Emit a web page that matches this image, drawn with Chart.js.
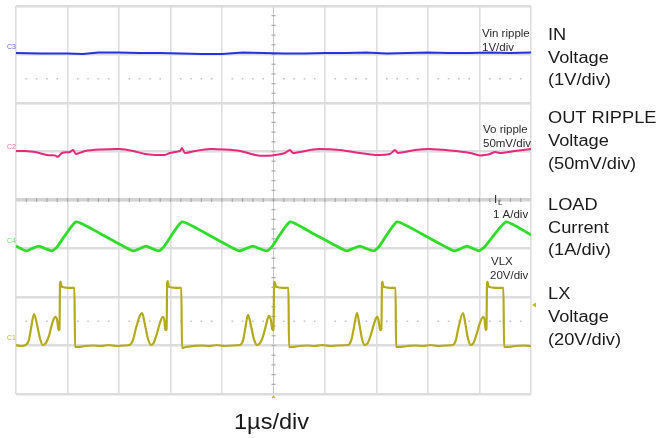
<!DOCTYPE html>
<html>
<head>
<meta charset="utf-8">
<script src="https://cdn.jsdelivr.net/npm/chart.js@4.4.1/dist/chart.umd.min.js"></script>
<style>
  html, body { margin: 0; padding: 0; background: #fff; }
  #scope { display: block; }
</style>
</head>
<body>
<canvas id="scope" width="661" height="438"></canvas>
<script>
// time axis in µs (1 µs/div, 10 div), vertical axis in screen divisions (8 div)
const xDivs = 10;
const yDivs = 8;

// C3 - Vin ripple
const vinTime = [0, 0.5, 1.0, 1.3, 1.6, 2.0, 2.4, 2.8, 3.2, 3.6, 4.0, 4.4, 4.8, 5.2, 5.6, 6.0, 6.4, 6.8, 7.2, 7.6, 8.0, 8.4, 8.8, 9.2, 9.6, 10];
const vinDiv  = [7.03, 7.02, 7.02, 7.01, 7.04, 7.04, 7.03, 7.03, 7.02, 7.01, 7.01, 7.04, 7.03, 7.02, 7.02, 7.03, 7.03, 7.04, 7.02, 7.03, 7.04, 7.03, 7.03, 7.04, 7.03, 7.04];

// C2 - Vo ripple
const voTime = [0, 0.175, 0.369, 0.602, 0.757, 0.816, 0.893, 1.049, 1.107, 1.165, 1.34, 1.631, 2.019, 2.272, 2.505, 2.699, 2.893, 2.99, 3.184, 3.223, 3.282, 3.476, 3.767, 4.058, 4.35, 4.641, 4.835, 5.029, 5.223, 5.32, 5.379, 5.709, 5.903, 6.291, 6.68, 6.971, 7.262, 7.359, 7.417, 7.748, 8.039, 8.427, 8.816, 9.01, 9.204, 9.301, 9.398, 9.689, 10];
const voDiv  = [5.01, 5.01, 4.99, 4.93, 4.92, 4.89, 4.97, 4.99, 5.03, 4.95, 5.01, 5.04, 5.05, 5.01, 4.95, 4.93, 4.93, 4.97, 5.01, 5.07, 4.97, 5.01, 5.05, 5.04, 5.01, 4.93, 4.91, 4.93, 4.97, 5.03, 4.97, 5.03, 5.05, 5.03, 4.97, 4.93, 4.95, 5.03, 4.97, 5.03, 5.05, 5.02, 4.97, 4.92, 4.95, 4.99, 4.97, 5.01, 5.05];

// C4 - inductor current
const ilTime = [0, 0.194, 0.311, 0.447, 0.563, 0.699, 0.796, 1.165, 1.631, 2.272, 2.408, 2.524, 2.641, 2.777, 2.874, 3.223, 3.689, 4.33, 4.466, 4.602, 4.718, 4.874, 4.971, 5.32, 5.767, 6.408, 6.544, 6.68, 6.796, 6.951, 7.049, 7.398, 7.864, 8.505, 8.641, 8.757, 8.874, 8.99, 9.107, 9.515, 10];
const ilDiv  = [3.05, 2.95, 3.0, 3.05, 3.0, 2.95, 3.03, 3.55, 3.31, 2.95, 3.0, 3.05, 3.0, 2.95, 3.04, 3.55, 3.31, 2.95, 3.0, 3.05, 3.0, 2.95, 3.04, 3.55, 3.31, 2.95, 3.0, 3.05, 3.0, 2.95, 3.04, 3.55, 3.31, 2.95, 3.0, 3.05, 3.0, 2.95, 3.04, 3.55, 3.28];

// C1 - switch node VLX
const lxTime = [0, 0.08, 0.19, 0.25, 0.29, 0.35, 0.41, 0.47, 0.52, 0.58, 0.64, 0.70, 0.76, 0.80, 0.825, 0.845, 0.855, 0.865, 0.89, 1.01, 1.135, 1.146, 1.21, 1.35, 1.5, 1.65, 1.8, 1.95, 2.1,
  2.2, 2.27, 2.33, 2.40, 2.45, 2.50, 2.56, 2.62, 2.67, 2.73, 2.79, 2.85, 2.88, 2.90, 2.925, 2.935, 2.945, 2.97, 3.10, 3.21, 3.223, 3.29, 3.45, 3.6, 3.75, 3.9, 4.05, 4.2,
  4.35, 4.41, 4.45, 4.505, 4.56, 4.62, 4.68, 4.74, 4.80, 4.86, 4.91, 4.95, 4.98, 5.0, 5.012, 5.02, 5.05, 5.18, 5.29, 5.301, 5.36, 5.5, 5.65, 5.8, 5.95, 6.1, 6.25,
  6.45, 6.51, 6.56, 6.62, 6.67, 6.72, 6.77, 6.83, 6.89, 6.95, 7.01, 7.04, 7.07, 7.095, 7.107, 7.115, 7.14, 7.27, 7.37, 7.379, 7.44, 7.6, 7.75, 7.9, 8.05, 8.2, 8.35,
  8.48, 8.54, 8.59, 8.68, 8.73, 8.78, 8.83, 8.88, 8.94, 9.0, 9.07, 9.10, 9.12, 9.135, 9.146, 9.155, 9.18, 9.32, 9.465, 9.476, 9.55, 9.7, 9.85, 10];
const lxDiv  = [1.01, 0.99, 1.01, 1.11, 1.34, 1.65, 1.42, 1.13, 1.01, 1.05, 1.20, 1.44, 1.59, 1.52, 1.32, 1.33, 2.29, 2.31, 2.21, 2.19, 2.19, 0.97, 0.97, 0.99, 1.0, 0.99, 1.01, 0.99, 1.0,
  1.01, 1.11, 1.36, 1.60, 1.67, 1.45, 1.15, 1.01, 1.05, 1.22, 1.45, 1.59, 1.53, 1.32, 1.33, 2.29, 2.33, 2.21, 2.19, 2.19, 0.95, 0.97, 0.99, 1.0, 0.99, 1.01, 0.99, 1.0,
  1.01, 1.11, 1.34, 1.63, 1.42, 1.13, 1.01, 1.05, 1.20, 1.44, 1.61, 1.52, 1.32, 1.33, 2.29, 2.31, 2.21, 2.19, 2.19, 0.97, 0.97, 0.99, 1.0, 0.99, 1.01, 0.99, 1.0,
  1.01, 1.11, 1.36, 1.67, 1.42, 1.13, 1.01, 1.05, 1.22, 1.44, 1.59, 1.52, 1.32, 1.33, 2.29, 2.31, 2.21, 2.19, 2.19, 0.97, 0.97, 0.99, 1.0, 0.99, 1.01, 0.99, 1.0,
  1.01, 1.11, 1.36, 1.67, 1.42, 1.13, 1.01, 1.05, 1.22, 1.44, 1.59, 1.52, 1.32, 1.33, 2.29, 2.31, 2.21, 2.19, 2.19, 0.97, 0.97, 0.99, 1.0, 0.99];

const triggerLevel = 1.835;
const dottedLevels = [6.5, 1.5];

// on-screen probe labels [text lines, colour]
const channelTags = [['C3', 7.1, '#6a6ae0'], ['C2', 5.05, '#e070a8'], ['C4', 3.1, '#66dd66'], ['C1', 1.1, '#b8b040']];
const sideLabels = [
  ['IN', 'Voltage', '(1V/div)'],
  ['OUT RIPPLE', 'Voltage', '(50mV/div)'],
  ['LOAD', 'Current', '(1A/div)'],
  ['LX', 'Voltage', '(20V/div)']
];
const sideBaselines = [40, 123.3, 210, 299.3];
const timeBase = '1µs/div';

function pts(xs, ys) { return xs.map((t, i) => ({ x: t, y: ys[i] })); }

function stretchText(ctx, text, x, y, sx) {
  ctx.save();
  ctx.translate(x, y);
  ctx.scale(sx, 1);
  ctx.fillText(text, 0, 0);
  ctx.restore();
}

const scopeDecor = {
  id: 'scopeDecor',
  beforeDatasetsDraw(chart) {
    const { ctx, scales: { x, y } } = chart;
    ctx.save();
    // minor ticks on the centre cross
    ctx.fillStyle = '#a9a9a9';
    const cy = y.getPixelForValue(yDivs / 2);
    const cx = x.getPixelForValue(xDivs / 2);
    for (let k = 1; k < xDivs * 5; k++) {
      const px = x.getPixelForValue(k / 5);
      ctx.fillRect(px - 0.6, cy - 2, 1.2, 4);
    }
    for (let k = 1; k < yDivs * 5; k++) {
      const py = y.getPixelForValue(k / 5);
      ctx.fillRect(cx - 2, py - 0.6, 4, 1.2);
    }
    // dotted reference lines
    ctx.fillStyle = '#c6c6c6';
    dottedLevels.forEach(v => {
      const py = y.getPixelForValue(v);
      for (let k = 1; k < xDivs * 5; k++) {
        if (k % 5 === 0) continue;
        const px = x.getPixelForValue(k / 5);
        ctx.fillRect(px - 0.8, py - 0.8, 1.6, 1.6);
      }
    });
    ctx.restore();
  },
  afterDraw(chart) {
    const { ctx, chartArea: a, scales: { x, y } } = chart;
    ctx.save();
    // channel tags on the left
    ctx.font = '7px "Liberation Sans", Arial, sans-serif';
    ctx.textBaseline = 'bottom';
    channelTags.forEach(([t, v, c]) => {
      ctx.fillStyle = c;
      ctx.fillText(t, 7, y.getPixelForValue(v) + 1);
    });

    // in-plot probe captions
    ctx.fillStyle = '#2a2a2a';
    ctx.textBaseline = 'alphabetic';
    ctx.font = '11.5px "Liberation Sans", Arial, sans-serif';
    ctx.fillText('Vin ripple', 482, 37);
    ctx.fillText('1V/div', 482, 51);
    ctx.fillText('Vo ripple', 483, 133);
    ctx.fillText('50mV/div', 483, 147);
    ctx.fillText('I', 494, 203);
    ctx.font = '8px "Liberation Sans", Arial, sans-serif';
    ctx.fillText('L', 498, 205);
    ctx.font = '11.5px "Liberation Sans", Arial, sans-serif';
    ctx.fillText('1 A/div', 493, 218);
    ctx.fillText('VLX', 491, 265);
    ctx.fillText('20V/div', 490, 279);

    // trigger markers
    ctx.fillStyle = '#c8b820';
    const ty = y.getPixelForValue(triggerLevel);
    ctx.beginPath();
    ctx.moveTo(a.right + 1, ty);
    ctx.lineTo(a.right + 5, ty - 2.5);
    ctx.lineTo(a.right + 5, ty + 2.5);
    ctx.closePath();
    ctx.fill();
    const tx = x.getPixelForValue(xDivs / 2);
    ctx.beginPath();
    ctx.moveTo(tx, a.bottom + 1);
    ctx.lineTo(tx - 2, a.bottom + 4);
    ctx.lineTo(tx + 2, a.bottom + 4);
    ctx.closePath();
    ctx.fill();

    // channel descriptions on the right
    ctx.fillStyle = '#1b1b1b';
    ctx.font = '16px "Liberation Sans", Arial, sans-serif';
    sideLabels.forEach((lines, i) => {
      lines.forEach((s, j) => stretchText(ctx, s, a.right + 17, sideBaselines[i] + j * 22.6, 1.14));
    });

    // time base caption
    ctx.font = '22px "Liberation Sans", Arial, sans-serif';
    const w = ctx.measureText(timeBase).width * 1.07;
    stretchText(ctx, timeBase, tx - 2 - w / 2, 429, 1.07);
    ctx.restore();
  }
};

const gridX = {
  drawTicks: false,
  color: c => c.tick && c.tick.value === xDivs / 2 ? '#c9c9c9' : '#dedede',
  lineWidth: c => c.tick && c.tick.value === xDivs / 2 ? 1 : 1.6
};
const gridY = {
  drawTicks: false,
  color: c => c.tick && c.tick.value === yDivs / 2 ? '#d3d3d3' : '#dcdcdc',
  lineWidth: c => c.tick && c.tick.value === yDivs / 2 ? 3.5 : 2.4
};

new Chart(document.getElementById('scope'), {
  type: 'line',
  data: {
    datasets: [
      { label: 'Vin ripple', data: pts(vinTime, vinDiv), borderColor: '#2433e0', borderWidth: 2, tension: 0 },
      { label: 'Vo ripple', data: pts(voTime, voDiv), borderColor: '#e8287e', borderWidth: 2, tension: 0.25 },
      { label: 'IL', data: pts(ilTime, ilDiv), borderColor: '#2fdc2a', borderWidth: 2.8, tension: 0.15 },
      { label: 'VLX', data: pts(lxTime, lxDiv), borderColor: '#b3aa1c', borderWidth: 2.2, cubicInterpolationMode: 'monotone' }
    ]
  },
  options: {
    responsive: false,
    animation: false,
    events: [],
    layout: { padding: { left: 16, top: 6, right: 130, bottom: 44 } },
    elements: { point: { radius: 0 } },
    plugins: { legend: { display: false }, tooltip: { enabled: false } },
    scales: {
      x: {
        type: 'linear', min: 0, max: xDivs,
        ticks: { display: false, stepSize: 1 },
        grid: gridX,
        border: { display: false }
      },
      y: {
        type: 'linear', min: 0, max: yDivs,
        ticks: { display: false, stepSize: 1 },
        grid: gridY,
        border: { display: false }
      }
    }
  },
  plugins: [scopeDecor]
});
</script>
</body>
</html>
